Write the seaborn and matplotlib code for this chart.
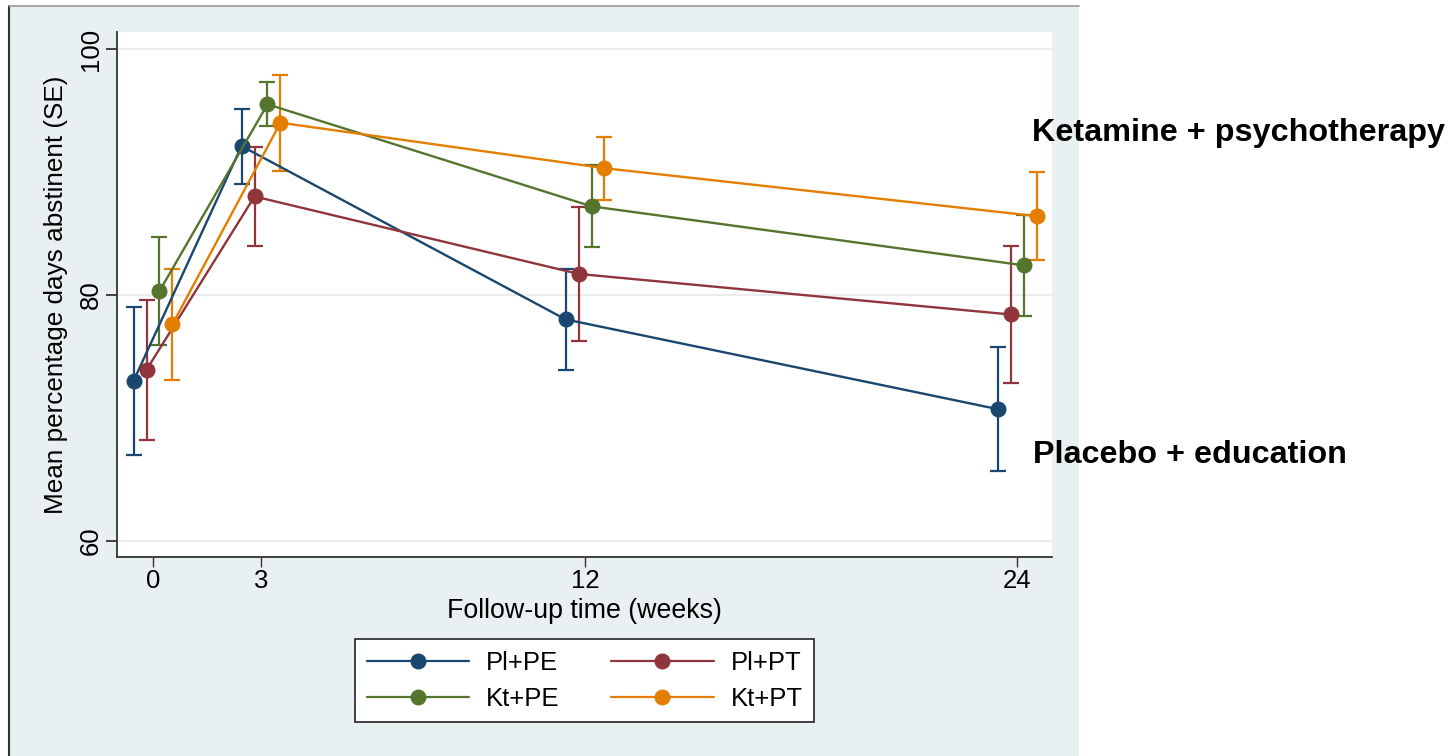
import matplotlib
matplotlib.use('Agg')
import matplotlib.pyplot as plt
from matplotlib.lines import Line2D
from matplotlib.patches import Rectangle
import pandas as pd
import seaborn as sns

# Dados (média e erro padrão por grupo)
weeks = [0, 3, 12, 24]
groups = ['Pl+PE', 'Pl+PT', 'Kt+PE', 'Kt+PT']
pl_pe_mean = [73.0, 92.1, 78.0, 70.7]
pl_pe_se = [6.0, 3.05, 4.1, 5.05]
pl_pt_mean = [73.9, 88.0, 81.7, 78.4]
pl_pt_se = [5.7, 4.0, 5.45, 5.6]
kt_pe_mean = [80.3, 95.5, 87.2, 82.4]
kt_pe_se = [4.4, 1.8, 3.35, 4.1]
kt_pt_mean = [77.6, 94.0, 90.3, 86.4]
kt_pt_se = [4.5, 3.9, 2.55, 3.6]

means = [pl_pe_mean, pl_pt_mean, kt_pe_mean, kt_pt_mean]
ses = [pl_pe_se, pl_pt_se, kt_pe_se, kt_pt_se]

# Estilo (cores tipo Stata e deslocamento horizontal de cada grupo)
colors = {'Pl+PE': '#1a476f', 'Pl+PT': '#90353b', 'Kt+PE': '#55752f', 'Kt+PT': '#e37e00'}
offsets = {'Pl+PE': -0.54, 'Pl+PT': -0.18, 'Kt+PE': 0.18, 'Kt+PT': 0.54}

rows = []
for g, m, s in zip(groups, means, ses):
    for w, mv, sv in zip(weeks, m, s):
        rows.append({'group': g, 'week': w, 'x': w + offsets[g], 'mean': mv, 'se': sv})
df = pd.DataFrame(rows)

sns.set_style('white')
plt.rcParams['font.family'] = ['Liberation Sans', 'DejaVu Sans']
plt.rcParams['text.color'] = 'black'
plt.rcParams['axes.labelcolor'] = 'black'
plt.rcParams['xtick.color'] = 'black'
plt.rcParams['ytick.color'] = 'black'

fig = plt.figure(figsize=(14.52, 7.56), dpi=100)
fig.patch.set_facecolor('white')

# Região do gráfico (fundo azul claro)
bg = Rectangle((9 / 1452, 0), 1070 / 1452, 1 - 6 / 756, transform=fig.transFigure,
               facecolor='#e8f0f2', edgecolor='none', zorder=-10)
fig.add_artist(bg)
fig.add_artist(Line2D([9 / 1452, 9 / 1452], [0, 1 - 6 / 756], transform=fig.transFigure,
                      color='#333333', lw=1.5, zorder=-5))
fig.add_artist(Line2D([9 / 1452, 1079 / 1452], [1 - 6 / 756, 1 - 6 / 756], transform=fig.transFigure,
                      color='#9a9a9a', lw=1.2, zorder=-5))

ax = fig.add_axes([117 / 1452, 1 - 557 / 756, 935 / 1452, 525 / 756])
ax.set_zorder(5)
ax.set_facecolor('white')

for g in groups:
    d = df[df['group'] == g]
    ax.errorbar(d['x'], d['mean'], yerr=d['se'], fmt='none', ecolor=colors[g],
                elinewidth=1.6, capsize=5.8, capthick=1.6, zorder=2)

sns.lineplot(data=df, x='x', y='mean', hue='group', palette=colors, hue_order=groups,
             marker='o', markersize=11.5, markeredgewidth=0, linewidth=1.7,
             legend=False, ax=ax, zorder=3, sort=True)

ax.set_xlim(-1.0, 24.97)
ax.set_ylim(58.67, 101.38)
ax.set_xticks(weeks)
ax.set_yticks([60, 80, 100])
ax.yaxis.grid(True, color='#ececec', linewidth=1.5)
ax.set_axisbelow(True)
for side in ['top', 'right']:
    ax.spines[side].set_visible(False)
for side in ['left', 'bottom']:
    ax.spines[side].set_color('#333333')
    ax.spines[side].set_linewidth(1.3)
ax.tick_params(axis='y', direction='out', length=8, width=1.3, color='#333333',
               labelsize=18.5, pad=2, left=True)
ax.tick_params(axis='x', direction='out', length=7, width=1.0, color='#333333',
               labelsize=18.5, pad=2, bottom=True)
for lab in ax.get_yticklabels():
    lab.set_rotation(90)
    lab.set_va('center')
ax.set_xlabel('Follow-up time (weeks)', fontsize=19.3, labelpad=3)
ax.set_ylabel('Mean percentage days abstinent (SE)', fontsize=18.8, labelpad=8)

# Legenda
handles = []
for g in ['Pl+PE', 'Kt+PE', 'Pl+PT', 'Kt+PT']:
    handles.append(Line2D([0], [0], color=colors[g], lw=1.6, marker='o', markersize=11.5,
                          markeredgewidth=0, label=g))
leg = fig.legend(handles=handles, ncol=2, loc='center', bbox_to_anchor=(0.4026, 0.0995),
                 fontsize=18.5, frameon=True, fancybox=False, edgecolor='#222222',
                 facecolor='white', framealpha=1, handlelength=4, handletextpad=0.65,
                 columnspacing=2.0, borderpad=0.45, labelspacing=0.45)
leg.get_frame().set_linewidth(1.2)
leg.set_zorder(6)

fig.text(1032 / 1452, 1 - 141 / 756, 'Ketamine + psychotherapy', fontsize=23.3,
         fontweight='bold', va='baseline', ha='left', zorder=10)
fig.text(1033 / 1452, 1 - 463 / 756, 'Placebo + education', fontsize=23.3,
         fontweight='bold', va='baseline', ha='left', zorder=10)

fig.savefig('out.png', dpi=100)
